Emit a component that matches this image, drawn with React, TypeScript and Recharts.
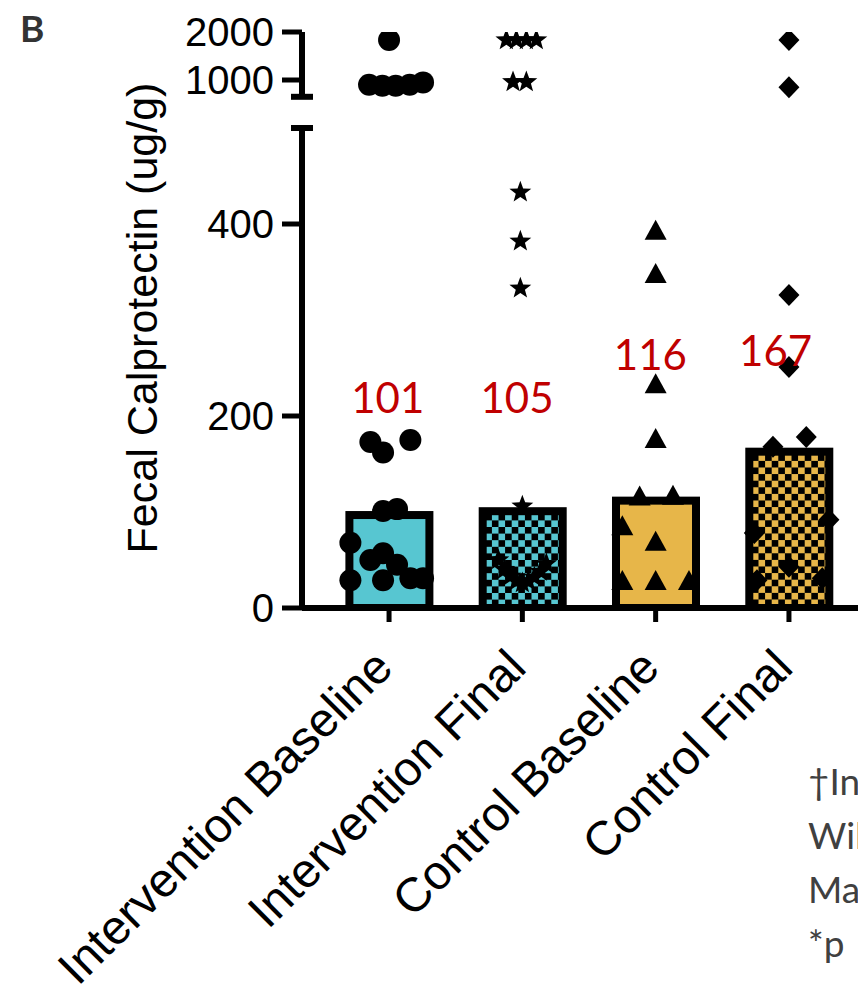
import React from 'react';
import { ComposedChart, Bar, Scatter, XAxis, YAxis, ReferenceLine } from 'recharts';

// ---------- data ----------
const categories = ['Intervention Baseline', 'Intervention Final', 'Control Baseline', 'Control Final'];
const medians = [101, 105, 116, 167];
const yTickValues = [0, 200, 400, 1000, 2000];

// individual subjects (ug/g) and their horizontal spread within the column (category units)
const intBaselineVals = [1833, 900, 880, 880, 900, 950, 173, 162, 175, 101, 103, 68, 50, 57, 45, 29, 29, 31, 31];
const intBaselineSpread = [0, -0.15, -0.05, 0.05, 0.155, 0.255, -0.14, -0.045, 0.16, -0.045, 0.06, -0.29, -0.14, -0.045, 0.06, -0.29, -0.045, 0.16, 0.255];

const intFinalVals = [1833, 1833, 1833, 1833, 960, 960, 433, 382, 333, 106, 50, 40, 33, 28, 26, 28, 32, 38, 46];
const intFinalSpread = [-0.12, -0.045, 0.03, 0.105, -0.07, 0.03, -0.015, -0.015, -0.015, 0, -0.18, -0.135, -0.09, -0.045, 0, 0.045, 0.09, 0.135, 0.18];

const ctlBaselineVals = [392, 347, 232, 175, 115, 116, 84, 68, 27, 27, 27];
const ctlBaselineSpread = [0, 0, 0, 0, -0.12, 0.13, -0.25, 0, -0.25, 0, 0.25];

const ctlFinalVals = [1833, 850, 326, 251, 178, 168, 78, 92, 43, 29, 31];
const ctlFinalSpread = [0, 0, 0, 0, 0.13, -0.12, -0.26, 0.3, 0, -0.24, 0.25];

// where the red median annotations sit (value units) and their small horizontal shift
const medianLabelAt = [203, 203, 248, 252];
const medianLabelShift = [-0.01, -0.04, -0.04, -0.1];

// footnote lines (only their beginnings are inside the frame)
const footnotes = ['\u2020In', 'Wil', 'Ma', '*p'];

// ---------- broken axis transform ----------
const LOW_TOP = 500;
const UP_BASE = 550; // display position of 1000
const UP_K = 0.05; // display units per ug/g on the upper segment
const disp = (v: number) => (v <= LOW_TOP ? v : UP_BASE + (v - 1000) * UP_K);

const PLOT_W = 564;
const X_MIN = -0.653;
const X_MAX = 3.578;
const PX_PER_X = PLOT_W / (X_MAX - X_MIN);
const CAT_PAD_L = (-X_MIN - 0.5) * PX_PER_X;
const CAT_PAD_R = PLOT_W - CAT_PAD_L - 4 * PX_PER_X;

const CYAN = '#57C6D1';
const GOLD = '#E7B649';

const barData = medians.map((m, i) => ({ name: categories[i], y: disp(m) }));
const mk = (vals: number[], spread: number[], i: number) =>
  vals.map((v, k) => ({ x: i + spread[k], y: disp(v), raw: v }));
const groups = [
  mk(intBaselineVals, intBaselineSpread, 0),
  mk(intFinalVals, intFinalSpread, 1),
  mk(ctlBaselineVals, ctlBaselineSpread, 2),
  mk(ctlFinalVals, ctlFinalSpread, 3),
];
const labelData = medians.map((m, i) => ({ x: i + medianLabelShift[i], y: disp(medianLabelAt[i]), label: String(m) }));

// ---------- shapes ----------
const Circle = (p: any) => <circle cx={p.cx} cy={p.cy} r={11} fill="#000" />;
const Star = (p: any) => {
  const R = 11.5, r = 4.8;
  const pts: string[] = [];
  for (let k = 0; k < 10; k++) {
    const a = -Math.PI / 2 + (k * Math.PI) / 5;
    const rad = k % 2 === 0 ? R : r;
    pts.push(`${p.cx + rad * Math.cos(a)},${p.cy + rad * Math.sin(a)}`);
  }
  return <polygon points={pts.join(' ')} fill="#000" />;
};
const Triangle = (p: any) => (
  <polygon points={`${p.cx},${p.cy - 12} ${p.cx - 11},${p.cy + 8} ${p.cx + 11},${p.cy + 8}`} fill="#000" />
);
const Diamond = (p: any) => (
  <polygon points={`${p.cx},${p.cy - 11} ${p.cx + 10.5},${p.cy} ${p.cx},${p.cy + 11} ${p.cx - 10.5},${p.cy}`} fill="#000" />
);
const shapes = [Circle, Star, Triangle, Diamond];

const MedianLabel = (p: any) => (
  <text x={p.cx} y={p.cy} textAnchor="middle" fontFamily="Lato, 'Open Sans', sans-serif" fontSize={42} fill="#C00000">
    {p.payload.label}
  </text>
);

const BarShape = (p: any) => {
  const { x, y, width, height } = p;
  let idx = categories.indexOf(p.payload?.name ?? p.name);
  if (idx < 0) idx = p.index ?? 0;
  const base = idx < 2 ? CYAN : GOLD;
  const checker = idx === 1 || idx === 3;
  const id = `chk${idx}`;
  const sw = 8;
  const s = 6.6;
  if (![x, y, width, height].every((n) => Number.isFinite(n))) return null;
  return (
    <g>
      {checker && (
        <defs>
          <pattern id={id} patternUnits="userSpaceOnUse" width={2 * s} height={2 * s} x={x} y={y}>
            <rect x={0} y={0} width={2 * s} height={2 * s} fill={base} />
            <rect x={0} y={0} width={s} height={s} fill="#000" />
            <rect x={s} y={s} width={s} height={s} fill="#000" />
          </pattern>
        </defs>
      )}
      <rect
        x={x + sw / 2}
        y={y + sw / 2}
        width={width - sw}
        height={Math.max(0, height - sw / 2)}
        fill={checker ? `url(#${id})` : base}
        stroke="#000"
        strokeWidth={sw}
      />
    </g>
  );
};

const XTick = (p: any) => {
  const label = categories[Math.round(p.payload.value)];
  return (
    <g transform={`translate(${p.x + 6},${p.y + 48})`}>
      <text x={0} y={0} textAnchor="end" transform="rotate(-45)" fontFamily="'Liberation Sans', Arial, sans-serif" fontSize={48} fill="#000">
        {label}
      </text>
    </g>
  );
};

const tickLabel = (d: number) => {
  const i = yTickValues.findIndex((v) => Math.abs(disp(v) - d) < 0.01);
  return i >= 0 ? String(yTickValues[i]) : '';
};

const YTitle = (p: any) => {
  const vb = p.viewBox || { x: 0, y: 0, width: 0, height: 0 };
  const cx = vb.x + 149;
  const cy = 310;
  return (
    <text x={cx} y={cy} transform={`rotate(-90 ${cx} ${cy})`} textAnchor="middle" fontFamily="'Liberation Sans', Arial, sans-serif" fontSize={43} fill="#000">
      Fecal Calprotectin (ug/g)
    </text>
  );
};

const capHalf = 11 / PX_PER_X;
const axisStroke = { stroke: '#000', strokeWidth: 6 };

export default function App() {
  return (
    <div style={{ position: 'relative', width: 858, height: 992 }}>
      <div
        style={{
          position: 'absolute',
          left: 12,
          top: 0,
          fontFamily: "Lato, 'Open Sans', sans-serif",
          fontWeight: 700,
          fontSize: 37,
          lineHeight: '40px',
          color: '#333',
        }}
      >
        B
      </div>
      <ComposedChart
        width={858}
        height={992}
        data={barData}
        margin={{ top: 24, right: 0, bottom: 92, left: 0 }}
        style={{ fontFamily: "'Liberation Sans', Arial, sans-serif" }}
      >
        <XAxis
          xAxisId="num"
          type="number"
          dataKey="x"
          domain={[X_MIN, X_MAX]}
          allowDataOverflow
          ticks={[0, 1, 2, 3]}
          interval={0}
          height={300}
          tickSize={14}
          tickMargin={0}
          axisLine={{ stroke: '#000', strokeWidth: 6 }}
          tickLine={{ stroke: '#000', strokeWidth: 5 }}
          tick={<XTick />}
        />
        <XAxis xAxisId="cat" type="category" dataKey="name" hide height={0} padding={{ left: CAT_PAD_L, right: CAT_PAD_R }} />
        <YAxis
          type="number"
          domain={[0, 600]}
          allowDataOverflow
          ticks={yTickValues.map(disp)}
          interval={0}
          width={294}
          tickSize={20}
          tickMargin={8}
          axisLine={false}
          tickLine={{ stroke: '#000', strokeWidth: 5 }}
          tickFormatter={tickLabel}
          tick={{ fill: '#000', fontSize: 40, fontFamily: "'Liberation Sans', Arial, sans-serif" }}
          label={<YTitle />}
        />
        <Bar xAxisId="cat" dataKey="y" barSize={88} shape={<BarShape />} isAnimationActive={false} />
        {groups.map((g, i) => (
          <Scatter key={i} xAxisId="num" data={g} dataKey="y" shape={shapes[i]} isAnimationActive={false} />
        ))}
        <Scatter xAxisId="num" data={labelData} dataKey="y" shape={MedianLabel} isAnimationActive={false} />
        {/* broken y axis */}
        <ReferenceLine xAxisId="num" segment={[{ x: X_MIN, y: 0 }, { x: X_MIN, y: LOW_TOP }]} ifOverflow="visible" {...axisStroke} />
        <ReferenceLine xAxisId="num" segment={[{ x: X_MIN - capHalf, y: LOW_TOP }, { x: X_MIN + capHalf, y: LOW_TOP }]} ifOverflow="visible" {...axisStroke} />
        <ReferenceLine xAxisId="num" segment={[{ x: X_MIN, y: disp(650) }, { x: X_MIN, y: disp(2000) }]} ifOverflow="visible" {...axisStroke} />
        <ReferenceLine xAxisId="num" segment={[{ x: X_MIN - capHalf, y: disp(650) }, { x: X_MIN + capHalf, y: disp(650) }]} ifOverflow="visible" {...axisStroke} />
        {footnotes.map((t, i) => (
          <text key={i} x={800} y={787 + i * 54} fontFamily="Lato, 'Open Sans', sans-serif" fontSize={37} fill="#404040">
            {t}
          </text>
        ))}
      </ComposedChart>
    </div>
  );
}
